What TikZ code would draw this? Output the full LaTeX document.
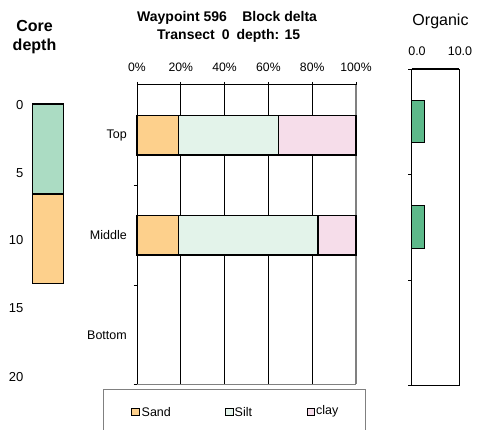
\documentclass[tikz,border=0pt]{standalone}
\usepackage{fontspec}
\setmainfont{Liberation Sans}
\begin{document}
\begin{tikzpicture}[x=1pt,y=-1pt,
  lbl/.style={font=\fontsize{12.2}{14}\selectfont, inner sep=0pt},
  cat/.style={font=\fontsize{12.5}{14}\selectfont, inner sep=0pt, anchor=east},
  num/.style={font=\fontsize{13}{15}\selectfont, inner sep=0pt, anchor=east},
  lgd/.style={font=\fontsize{12.5}{14}\selectfont, inner sep=0pt, anchor=west},
  ttl/.style={font=\bfseries\fontsize{14}{16}\selectfont, inner sep=0pt},
  grid/.style={line width=0.8pt, black},
  barbox/.style={draw=black, line width=1.2pt},
  tick/.style={line width=0.8pt}]
\definecolor{sandc}{HTML}{FDD08C}
\definecolor{siltc}{HTML}{E3F3EA}
\definecolor{clayc}{HTML}{F6DDEA}
\definecolor{corec}{HTML}{ABDCC3}
\definecolor{orgc}{HTML}{5DB98A}
\definecolor{edgec}{HTML}{808080}
\useasboundingbox (0,0) rectangle (477,430);

% ---- core depth column ----
\node[font=\bfseries\fontsize{16}{18}\selectfont, inner sep=0pt] (coreT) at (34.5,26) {Core};
\node[font=\bfseries\fontsize{16}{18}\selectfont, inner sep=0pt] (coreB) at (34.5,46) {depth};
\foreach \d/\yy in {0/105,5/172.7,10/240,15/308,20/376.7}
  \node[num] (cd\d) at (23.5,\yy) {\d};
\fill[corec] (32.3,104) rectangle (63.7,194);
\fill[sandc] (32.3,194) rectangle (63.7,283.3);
\draw[line width=1.1pt] (32.3,104) rectangle (63.7,283.3);
\draw[line width=1.1pt] (32.3,194) -- (63.7,194);

% ---- title ----
\node[ttl, anchor=west] (title1) at (137,18) {Waypoint 596\hspace{1.1em}Block delta};
\node[ttl, anchor=west] (title2) at (157,36) {Transect\hspace{0.5em}0\hspace{0.5em}depth: 15};

% ---- main bar chart ----
\foreach \p/\xx in {0/137,20/180.8,40/224.6,60/268.4,80/312.2,100/356}
  \node[lbl] (pc\p) at (\xx,67) {\p\%};
\foreach \xx in {180.8,224.6,268.4,312.2}
  \draw[grid] (\xx,82) -- (\xx,384.5);
\draw[tick] (137,82) -- (137,85);
\draw[tick] (356,82) -- (356,85);
\draw[line width=1pt] (137,85) -- (356,85);
\draw[edgec, line width=1.4pt] (356,85) -- (356,384.5);
\draw[edgec, line width=1pt] (137,384.5) -- (356,384.5);

% Top bar
\draw[barbox, fill=sandc] (137,115.7) rectangle (178.3,155);
\draw[barbox, fill=siltc] (178.3,115.7) rectangle (278.3,155);
\draw[barbox, fill=clayc] (278.3,115.7) rectangle (356,155);
% Middle bar
\draw[barbox, fill=sandc] (137,215.7) rectangle (178.7,255);
\draw[barbox, fill=siltc] (178.7,215.7) rectangle (318,255);
\draw[barbox, fill=clayc] (318,215.7) rectangle (356,255);

\draw[line width=1pt] (137,82) -- (137,384.5);
\foreach \yy in {185,285,384.5}
  \draw[tick] (133.5,\yy) -- (137,\yy);

\node[cat] (cTop) at (127,135.3) {Top};
\node[cat] (cMid) at (127,235.3) {Middle};
\node[cat] (cBot) at (127,335.3) {Bottom};

% ---- legend ----
\draw[edgec, line width=1pt] (103.3,432) -- (103.3,390) -- (365.3,390) -- (365.3,432);
\draw[line width=0.8pt, fill=sandc] (131.7,408) rectangle (139.3,415.5);
\node[lgd] (lgSand) at (141.5,411.7) {Sand};
\draw[line width=0.8pt, fill=siltc] (225.7,408) rectangle (233.3,415.5);
\node[lgd] (lgSilt) at (234.5,411.7) {Silt};
\draw[line width=0.8pt, fill=clayc] (307,408) rectangle (314.6,415.5);
\node[lgd] (lgClay) at (316,411.7) {clay};

% ---- organic panel ----
\node[font=\fontsize{16}{18}\selectfont, inner sep=0pt] (orgT) at (440.5,21.7) {Organic};
\node[font=\fontsize{12.5}{14}\selectfont, inner sep=0pt] (org0) at (417,51.7) {0.0};
\node[font=\fontsize{12.5}{14}\selectfont, inner sep=0pt] (org10) at (460,51.7) {10.0};
\fill[orgc] (411.7,100.7) rectangle (424.3,142.7);
\fill[orgc] (411.7,205.7) rectangle (424.3,248.3);
\draw[line width=1.1pt] (411.7,142.7) -- (424.3,142.7) -- (424.3,100.7) -- (411.7,100.7);
\draw[line width=1.1pt] (411.7,248.3) -- (424.3,248.3) -- (424.3,205.7) -- (411.7,205.7);
\draw[line width=0.9pt] (411.7,69) -- (411.7,385.7) -- (459.3,385.7) -- (459.3,69);
\draw[line width=1.6pt] (411.7,69) -- (459.3,69);
\foreach \yy in {69,174.3,280,385.7}
  \draw[tick] (408,\yy) -- (411.7,\yy);
\end{tikzpicture}
\end{document}
